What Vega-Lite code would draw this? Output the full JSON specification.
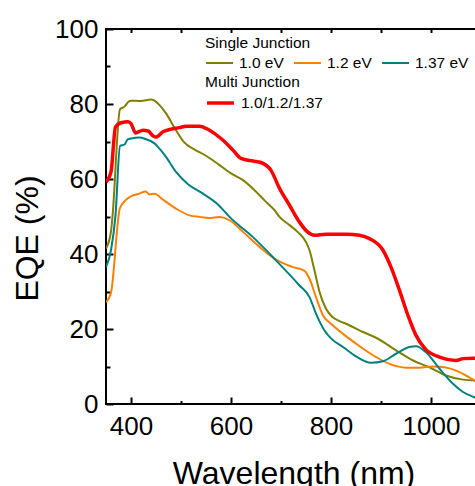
{
  "$schema": "https://vega.github.io/schema/vega-lite/v6.json",
  "width": 375,
  "height": 375,
  "autosize": {"type": "none"},
  "padding": {"left": 106, "top": 29, "right": 0, "bottom": 82},
  "background": "white",
  "config": {
    "font": "Liberation Sans",
    "view": {"stroke": "black", "strokeWidth": 2},
    "axis": {"grid": false, "domain": false, "labelFlush": false, "labelOverlap": false, "tickColor": "black", "tickWidth": 2, "labelColor": "black", "titleColor": "black", "labelFont": "Liberation Sans", "titleFont": "Liberation Sans"},
    "legend": {"labelFont": "Liberation Sans", "titleFont": "Liberation Sans"}
  },
  "data": {
    "values": [
      {"wl": 350, "eqe": 41.5, "series": "1.0 eV", "group": "Single"},
      {"wl": 360, "eqe": 46, "series": "1.0 eV", "group": "Single"},
      {"wl": 363, "eqe": 50, "series": "1.0 eV", "group": "Single"},
      {"wl": 378, "eqe": 78.6, "series": "1.0 eV", "group": "Single"},
      {"wl": 387, "eqe": 79.3, "series": "1.0 eV", "group": "Single"},
      {"wl": 395, "eqe": 80.6, "series": "1.0 eV", "group": "Single"},
      {"wl": 400, "eqe": 80.9, "series": "1.0 eV", "group": "Single"},
      {"wl": 420, "eqe": 80.8, "series": "1.0 eV", "group": "Single"},
      {"wl": 440, "eqe": 81.2, "series": "1.0 eV", "group": "Single"},
      {"wl": 447, "eqe": 80.9, "series": "1.0 eV", "group": "Single"},
      {"wl": 457, "eqe": 79.7, "series": "1.0 eV", "group": "Single"},
      {"wl": 470, "eqe": 77.5, "series": "1.0 eV", "group": "Single"},
      {"wl": 490, "eqe": 73, "series": "1.0 eV", "group": "Single"},
      {"wl": 507, "eqe": 69.7, "series": "1.0 eV", "group": "Single"},
      {"wl": 524, "eqe": 68.1, "series": "1.0 eV", "group": "Single"},
      {"wl": 550, "eqe": 66.2, "series": "1.0 eV", "group": "Single"},
      {"wl": 577, "eqe": 63.7, "series": "1.0 eV", "group": "Single"},
      {"wl": 600, "eqe": 61.5, "series": "1.0 eV", "group": "Single"},
      {"wl": 624, "eqe": 59.7, "series": "1.0 eV", "group": "Single"},
      {"wl": 654, "eqe": 56.1, "series": "1.0 eV", "group": "Single"},
      {"wl": 667, "eqe": 54.3, "series": "1.0 eV", "group": "Single"},
      {"wl": 687, "eqe": 51.7, "series": "1.0 eV", "group": "Single"},
      {"wl": 697, "eqe": 49.9, "series": "1.0 eV", "group": "Single"},
      {"wl": 717, "eqe": 47.7, "series": "1.0 eV", "group": "Single"},
      {"wl": 733, "eqe": 45.9, "series": "1.0 eV", "group": "Single"},
      {"wl": 750, "eqe": 43.2, "series": "1.0 eV", "group": "Single"},
      {"wl": 757, "eqe": 41, "series": "1.0 eV", "group": "Single"},
      {"wl": 767, "eqe": 35.6, "series": "1.0 eV", "group": "Single"},
      {"wl": 777, "eqe": 29.9, "series": "1.0 eV", "group": "Single"},
      {"wl": 790, "eqe": 25.4, "series": "1.0 eV", "group": "Single"},
      {"wl": 803, "eqe": 23.2, "series": "1.0 eV", "group": "Single"},
      {"wl": 817, "eqe": 22.1, "series": "1.0 eV", "group": "Single"},
      {"wl": 830, "eqe": 21.4, "series": "1.0 eV", "group": "Single"},
      {"wl": 864, "eqe": 19.2, "series": "1.0 eV", "group": "Single"},
      {"wl": 894, "eqe": 17.4, "series": "1.0 eV", "group": "Single"},
      {"wl": 930, "eqe": 14.3, "series": "1.0 eV", "group": "Single"},
      {"wl": 964, "eqe": 11.6, "series": "1.0 eV", "group": "Single"},
      {"wl": 997, "eqe": 9.8, "series": "1.0 eV", "group": "Single"},
      {"wl": 1030, "eqe": 7.6, "series": "1.0 eV", "group": "Single"},
      {"wl": 1064, "eqe": 6.5, "series": "1.0 eV", "group": "Single"},
      {"wl": 1087, "eqe": 6.3, "series": "1.0 eV", "group": "Single"},
      {"wl": 1100, "eqe": 6.3, "series": "1.0 eV", "group": "Single"},

      {"wl": 350, "eqe": 27.2, "series": "1.2 eV", "group": "Single"},
      {"wl": 360, "eqe": 29.7, "series": "1.2 eV", "group": "Single"},
      {"wl": 378, "eqe": 52.3, "series": "1.2 eV", "group": "Single"},
      {"wl": 400, "eqe": 55.4, "series": "1.2 eV", "group": "Single"},
      {"wl": 417, "eqe": 56.1, "series": "1.2 eV", "group": "Single"},
      {"wl": 429, "eqe": 56.7, "series": "1.2 eV", "group": "Single"},
      {"wl": 437, "eqe": 55.9, "series": "1.2 eV", "group": "Single"},
      {"wl": 447, "eqe": 56.1, "series": "1.2 eV", "group": "Single"},
      {"wl": 464, "eqe": 54.5, "series": "1.2 eV", "group": "Single"},
      {"wl": 490, "eqe": 52.1, "series": "1.2 eV", "group": "Single"},
      {"wl": 517, "eqe": 50.3, "series": "1.2 eV", "group": "Single"},
      {"wl": 537, "eqe": 49.9, "series": "1.2 eV", "group": "Single"},
      {"wl": 557, "eqe": 49.6, "series": "1.2 eV", "group": "Single"},
      {"wl": 577, "eqe": 49.9, "series": "1.2 eV", "group": "Single"},
      {"wl": 597, "eqe": 49, "series": "1.2 eV", "group": "Single"},
      {"wl": 624, "eqe": 45.9, "series": "1.2 eV", "group": "Single"},
      {"wl": 657, "eqe": 41.9, "series": "1.2 eV", "group": "Single"},
      {"wl": 690, "eqe": 38.5, "series": "1.2 eV", "group": "Single"},
      {"wl": 724, "eqe": 36.5, "series": "1.2 eV", "group": "Single"},
      {"wl": 747, "eqe": 35.5, "series": "1.2 eV", "group": "Single"},
      {"wl": 757, "eqe": 33.4, "series": "1.2 eV", "group": "Single"},
      {"wl": 770, "eqe": 28.5, "series": "1.2 eV", "group": "Single"},
      {"wl": 784, "eqe": 23.6, "series": "1.2 eV", "group": "Single"},
      {"wl": 800, "eqe": 21.4, "series": "1.2 eV", "group": "Single"},
      {"wl": 824, "eqe": 18.7, "series": "1.2 eV", "group": "Single"},
      {"wl": 850, "eqe": 16.1, "series": "1.2 eV", "group": "Single"},
      {"wl": 884, "eqe": 13, "series": "1.2 eV", "group": "Single"},
      {"wl": 917, "eqe": 10.7, "series": "1.2 eV", "group": "Single"},
      {"wl": 950, "eqe": 9.7, "series": "1.2 eV", "group": "Single"},
      {"wl": 977, "eqe": 9.7, "series": "1.2 eV", "group": "Single"},
      {"wl": 1004, "eqe": 10, "series": "1.2 eV", "group": "Single"},
      {"wl": 1027, "eqe": 9.8, "series": "1.2 eV", "group": "Single"},
      {"wl": 1050, "eqe": 8.9, "series": "1.2 eV", "group": "Single"},
      {"wl": 1070, "eqe": 7.6, "series": "1.2 eV", "group": "Single"},
      {"wl": 1087, "eqe": 6.3, "series": "1.2 eV", "group": "Single"},
      {"wl": 1100, "eqe": 5.5, "series": "1.2 eV", "group": "Single"},

      {"wl": 350, "eqe": 36.5, "series": "1.37 eV", "group": "Single"},
      {"wl": 360, "eqe": 41, "series": "1.37 eV", "group": "Single"},
      {"wl": 369, "eqe": 50.3, "series": "1.37 eV", "group": "Single"},
      {"wl": 378, "eqe": 68.8, "series": "1.37 eV", "group": "Single"},
      {"wl": 387, "eqe": 69.2, "series": "1.37 eV", "group": "Single"},
      {"wl": 393, "eqe": 70.5, "series": "1.37 eV", "group": "Single"},
      {"wl": 400, "eqe": 70.8, "series": "1.37 eV", "group": "Single"},
      {"wl": 417, "eqe": 71.1, "series": "1.37 eV", "group": "Single"},
      {"wl": 430, "eqe": 70.6, "series": "1.37 eV", "group": "Single"},
      {"wl": 447, "eqe": 69.5, "series": "1.37 eV", "group": "Single"},
      {"wl": 457, "eqe": 68.1, "series": "1.37 eV", "group": "Single"},
      {"wl": 470, "eqe": 65.9, "series": "1.37 eV", "group": "Single"},
      {"wl": 490, "eqe": 61.9, "series": "1.37 eV", "group": "Single"},
      {"wl": 514, "eqe": 58.6, "series": "1.37 eV", "group": "Single"},
      {"wl": 544, "eqe": 56.1, "series": "1.37 eV", "group": "Single"},
      {"wl": 574, "eqe": 53.2, "series": "1.37 eV", "group": "Single"},
      {"wl": 597, "eqe": 49.9, "series": "1.37 eV", "group": "Single"},
      {"wl": 644, "eqe": 44.5, "series": "1.37 eV", "group": "Single"},
      {"wl": 690, "eqe": 38.3, "series": "1.37 eV", "group": "Single"},
      {"wl": 737, "eqe": 31.6, "series": "1.37 eV", "group": "Single"},
      {"wl": 757, "eqe": 28.5, "series": "1.37 eV", "group": "Single"},
      {"wl": 770, "eqe": 24.1, "series": "1.37 eV", "group": "Single"},
      {"wl": 787, "eqe": 19.6, "series": "1.37 eV", "group": "Single"},
      {"wl": 800, "eqe": 17.5, "series": "1.37 eV", "group": "Single"},
      {"wl": 824, "eqe": 15.2, "series": "1.37 eV", "group": "Single"},
      {"wl": 850, "eqe": 12.7, "series": "1.37 eV", "group": "Single"},
      {"wl": 880, "eqe": 11, "series": "1.37 eV", "group": "Single"},
      {"wl": 904, "eqe": 11.4, "series": "1.37 eV", "group": "Single"},
      {"wl": 930, "eqe": 13.4, "series": "1.37 eV", "group": "Single"},
      {"wl": 957, "eqe": 15.2, "series": "1.37 eV", "group": "Single"},
      {"wl": 970, "eqe": 15.4, "series": "1.37 eV", "group": "Single"},
      {"wl": 990, "eqe": 13.8, "series": "1.37 eV", "group": "Single"},
      {"wl": 1017, "eqe": 9.4, "series": "1.37 eV", "group": "Single"},
      {"wl": 1044, "eqe": 5.4, "series": "1.37 eV", "group": "Single"},
      {"wl": 1064, "eqe": 3.2, "series": "1.37 eV", "group": "Single"},
      {"wl": 1087, "eqe": 1.8, "series": "1.37 eV", "group": "Single"},
      {"wl": 1100, "eqe": 1.2, "series": "1.37 eV", "group": "Single"},

      {"wl": 350, "eqe": 59.2, "series": "1.0/1.2/1.37", "group": "Multi"},
      {"wl": 360, "eqe": 61.9, "series": "1.0/1.2/1.37", "group": "Multi"},
      {"wl": 369, "eqe": 73.9, "series": "1.0/1.2/1.37", "group": "Multi"},
      {"wl": 380, "eqe": 75, "series": "1.0/1.2/1.37", "group": "Multi"},
      {"wl": 394, "eqe": 75.3, "series": "1.0/1.2/1.37", "group": "Multi"},
      {"wl": 400, "eqe": 74.8, "series": "1.0/1.2/1.37", "group": "Multi"},
      {"wl": 409, "eqe": 72.3, "series": "1.0/1.2/1.37", "group": "Multi"},
      {"wl": 424, "eqe": 73, "series": "1.0/1.2/1.37", "group": "Multi"},
      {"wl": 434, "eqe": 72.8, "series": "1.0/1.2/1.37", "group": "Multi"},
      {"wl": 445, "eqe": 71.4, "series": "1.0/1.2/1.37", "group": "Multi"},
      {"wl": 450, "eqe": 71.2, "series": "1.0/1.2/1.37", "group": "Multi"},
      {"wl": 464, "eqe": 72.6, "series": "1.0/1.2/1.37", "group": "Multi"},
      {"wl": 480, "eqe": 73.3, "series": "1.0/1.2/1.37", "group": "Multi"},
      {"wl": 497, "eqe": 73.7, "series": "1.0/1.2/1.37", "group": "Multi"},
      {"wl": 510, "eqe": 74.1, "series": "1.0/1.2/1.37", "group": "Multi"},
      {"wl": 537, "eqe": 74.1, "series": "1.0/1.2/1.37", "group": "Multi"},
      {"wl": 557, "eqe": 73, "series": "1.0/1.2/1.37", "group": "Multi"},
      {"wl": 580, "eqe": 70.8, "series": "1.0/1.2/1.37", "group": "Multi"},
      {"wl": 604, "eqe": 67.7, "series": "1.0/1.2/1.37", "group": "Multi"},
      {"wl": 620, "eqe": 65.5, "series": "1.0/1.2/1.37", "group": "Multi"},
      {"wl": 644, "eqe": 64.8, "series": "1.0/1.2/1.37", "group": "Multi"},
      {"wl": 660, "eqe": 64.4, "series": "1.0/1.2/1.37", "group": "Multi"},
      {"wl": 680, "eqe": 62.3, "series": "1.0/1.2/1.37", "group": "Multi"},
      {"wl": 697, "eqe": 57.5, "series": "1.0/1.2/1.37", "group": "Multi"},
      {"wl": 717, "eqe": 53, "series": "1.0/1.2/1.37", "group": "Multi"},
      {"wl": 737, "eqe": 48.5, "series": "1.0/1.2/1.37", "group": "Multi"},
      {"wl": 753, "eqe": 45.9, "series": "1.0/1.2/1.37", "group": "Multi"},
      {"wl": 767, "eqe": 45, "series": "1.0/1.2/1.37", "group": "Multi"},
      {"wl": 790, "eqe": 45.3, "series": "1.0/1.2/1.37", "group": "Multi"},
      {"wl": 830, "eqe": 45.3, "series": "1.0/1.2/1.37", "group": "Multi"},
      {"wl": 857, "eqe": 45, "series": "1.0/1.2/1.37", "group": "Multi"},
      {"wl": 877, "eqe": 44.1, "series": "1.0/1.2/1.37", "group": "Multi"},
      {"wl": 904, "eqe": 41, "series": "1.0/1.2/1.37", "group": "Multi"},
      {"wl": 920, "eqe": 36.5, "series": "1.0/1.2/1.37", "group": "Multi"},
      {"wl": 937, "eqe": 30.3, "series": "1.0/1.2/1.37", "group": "Multi"},
      {"wl": 954, "eqe": 23.6, "series": "1.0/1.2/1.37", "group": "Multi"},
      {"wl": 970, "eqe": 18.3, "series": "1.0/1.2/1.37", "group": "Multi"},
      {"wl": 990, "eqe": 14.5, "series": "1.0/1.2/1.37", "group": "Multi"},
      {"wl": 1017, "eqe": 12.5, "series": "1.0/1.2/1.37", "group": "Multi"},
      {"wl": 1050, "eqe": 11.6, "series": "1.0/1.2/1.37", "group": "Multi"},
      {"wl": 1064, "eqe": 12.1, "series": "1.0/1.2/1.37", "group": "Multi"},
      {"wl": 1087, "eqe": 12.2, "series": "1.0/1.2/1.37", "group": "Multi"},
      {"wl": 1100, "eqe": 12.2, "series": "1.0/1.2/1.37", "group": "Multi"}
    ]
  },
  "layer": [
    {
      "transform": [{"filter": "datum.group === 'Single'"}],
      "mark": {"type": "line", "strokeWidth": 2, "interpolate": "monotone", "clip": true},
      "encoding": {
        "x": {
          "field": "wl", "type": "quantitative",
          "scale": {"domain": [350, 1100], "nice": false, "zero": false},
          "axis": {
            "orient": "bottom",
            "values": [400, 600, 800, 1000],
            "format": "d",
            "offset": -7,
            "tickSize": 7,
            "labelPadding": 9,
            "labelFontSize": 26,
            "title": "Wavelength (nm)",
            "titleFontSize": 32,
            "titleFontWeight": "normal",
            "titleY": 61,
            "titleBaseline": "top"
          }
        },
        "y": {
          "field": "eqe", "type": "quantitative",
          "scale": {"domain": [0, 100], "nice": false},
          "axis": {
            "orient": "left",
            "values": [0, 20, 40, 60, 80, 100],
            "offset": -7,
            "tickSize": 7,
            "labelPadding": 8,
            "labelFontSize": 26,
            "title": "EQE (%)",
            "titleFontSize": 32,
            "titleFontWeight": "normal",
            "titleAngle": -90,
            "titleX": -86,
            "titleY": 209,
            "titleAlign": "center",
            "titleBaseline": "middle"
          }
        },
        "color": {
          "field": "series", "type": "nominal",
          "scale": {"domain": ["1.0 eV", "1.2 eV", "1.37 eV"], "range": ["#808000", "#FF8000", "#008080"]},
          "legend": {
            "title": "Single Junction",
            "orient": "none",
            "legendX": 99,
            "legendY": 7,
            "direction": "horizontal",
            "padding": 0,
            "titleFontSize": 15.5,
            "titleFontWeight": "normal",
            "titleColor": "black",
            "titleAnchor": "start",
            "titlePadding": -3,
            "labelFontSize": 15.5,
            "labelColor": "black",
            "symbolType": "stroke",
            "symbolSize": 729,
            "symbolStrokeWidth": 2,
            "labelOffset": 5,
            "columnPadding": 6
          }
        }
      }
    },
    {
      "transform": [{"filter": "datum.group === 'Multi'"}],
      "mark": {"type": "line", "strokeWidth": 3.5, "interpolate": "monotone", "clip": true},
      "encoding": {
        "x": {
          "field": "wl", "type": "quantitative",
          "scale": {"domain": [350, 1100], "nice": false, "zero": false},
          "axis": {
            "orient": "top",
            "values": [400, 500, 600, 700, 800, 900, 1000],
            "labels": false,
            "offset": -3.5,
            "tickSize": 3.5,
            "title": null
          }
        },
        "y": {
          "field": "eqe", "type": "quantitative",
          "scale": {"domain": [0, 100], "nice": false},
          "axis": null
        },
        "color": {
          "field": "series", "type": "nominal",
          "scale": {"domain": ["1.0/1.2/1.37"], "range": ["#FF0000"]},
          "legend": {
            "title": "Multi Junction",
            "orient": "none",
            "legendX": 99,
            "legendY": 46,
            "direction": "horizontal",
            "padding": 0,
            "titleFontSize": 15.5,
            "titleFontWeight": "normal",
            "titleColor": "black",
            "titleAnchor": "start",
            "titlePadding": -3,
            "labelFontSize": 15.5,
            "labelColor": "black",
            "symbolType": "stroke",
            "symbolSize": 729,
            "symbolStrokeWidth": 3.5,
            "labelOffset": 5
          }
        }
      }
    },
    {
      "transform": [{"filter": "datum.group === 'Multi'"}],
      "mark": {"type": "point", "opacity": 0},
      "encoding": {
        "x": {
          "field": "wl", "type": "quantitative",
          "scale": {"domain": [350, 1100], "nice": false, "zero": false},
          "axis": {
            "orient": "bottom",
            "values": [500, 700, 900],
            "labels": false,
            "offset": -3.5,
            "tickSize": 3.5,
            "title": null
          }
        },
        "y": {
          "field": "eqe", "type": "quantitative",
          "scale": {"domain": [0, 100], "nice": false},
          "axis": {
            "orient": "left",
            "values": [10, 30, 50, 70, 90],
            "labels": false,
            "offset": -4,
            "tickSize": 4,
            "title": null
          }
        }
      }
    }
  ],
  "resolve": {"scale": {"color": "independent"}, "axis": {"x": "independent", "y": "independent"}}
}
